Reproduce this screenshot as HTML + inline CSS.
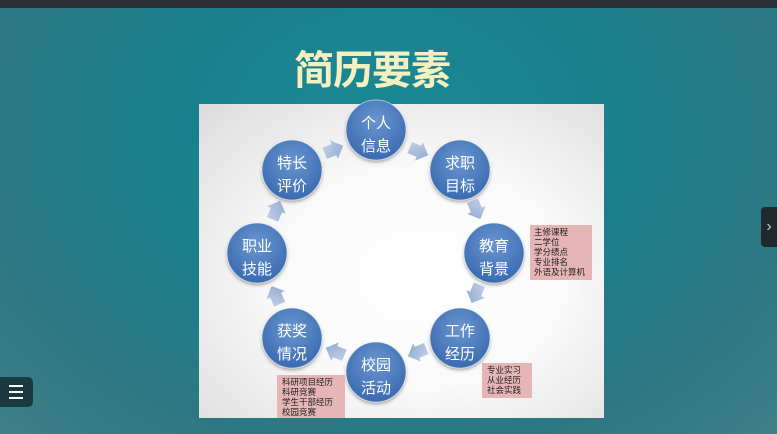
<!DOCTYPE html>
<html><head><meta charset="utf-8"><style>
html,body{margin:0;padding:0;}
body{width:777px;height:434px;overflow:hidden;position:relative;font-family:"Liberation Sans","Noto Sans CJK SC",sans-serif;
background:radial-gradient(ellipse at 50% 30%,#1a8a96 0%,#19808c 40%,#2c7882 75%,#407f88 100%);}
.top{position:absolute;left:0;top:0;width:777px;height:8px;background:#2b2e33;}
.title{position:absolute;left:0;width:744px;top:38px;text-align:center;font-size:40px;font-weight:bold;color:#f6efbf;font-family:"Noto Sans CJK SC",sans-serif;letter-spacing:-1px;}
.img{position:absolute;left:199px;top:104px;width:405px;height:314px;background:radial-gradient(ellipse at 55% 55%,#ffffff 0%,#fafafa 45%,#dcdcdc 100%);}
.nav{position:absolute;left:761px;top:207px;width:16px;height:40px;background:#1e2a2e;border-radius:4px 0 0 4px;color:#ccc;font-size:16px;line-height:40px;text-align:center;}
.menu{position:absolute;left:0;top:377px;width:33px;height:30px;background:#1b3a40;border-radius:0 5px 5px 0;z-index:5;}
.menu i{position:absolute;left:9px;width:14px;height:2px;background:#fff;}
</style></head><body>
<div class="top"></div>
<div class="title">简历要素</div>
<div class="img"></div>
<svg width="777" height="434" style="position:absolute;left:0;top:0" font-family="Noto Sans CJK SC, sans-serif">
<defs>
<radialGradient id="c" cx="50%" cy="35%" r="65%"><stop offset="0" stop-color="#6a96d0"/><stop offset="1" stop-color="#3a6ab0"/></radialGradient>
<linearGradient id="a" x1="0" y1="0" x2="1" y2="1"><stop offset="0" stop-color="#c5d3ea"/><stop offset="1" stop-color="#8ea6cf"/></linearGradient>
<filter id="s"><feDropShadow dx="0" dy="2" stdDeviation="1.5" flood-color="#555" flood-opacity="0.5"/></filter>
</defs>
<g id="arrows" fill="url(#a)">
<polygon points="-9,-6 1,-6 1,-10 11,0 1,10 1,6 -9,6" transform="translate(418,151) rotate(23)"/>
<polygon points="-9,-6 1,-6 1,-10 11,0 1,10 1,6 -9,6" transform="translate(476,209) rotate(67)"/>
<polygon points="-9,-6 1,-6 1,-10 11,0 1,10 1,6 -9,6" transform="translate(476,293) rotate(113)"/>
<polygon points="-9,-6 1,-6 1,-10 11,0 1,10 1,6 -9,6" transform="translate(418,352) rotate(157)"/>
<polygon points="-9,-6 1,-6 1,-10 11,0 1,10 1,6 -9,6" transform="translate(336,352) rotate(202)"/>
<polygon points="-9,-6 1,-6 1,-10 11,0 1,10 1,6 -9,6" transform="translate(276,296) rotate(246)"/>
<polygon points="-9,-6 1,-6 1,-10 11,0 1,10 1,6 -9,6" transform="translate(276,211) rotate(292)"/>
<polygon points="-9,-6 1,-6 1,-10 11,0 1,10 1,6 -9,6" transform="translate(333,150) rotate(337)"/>
</g>
<g fill="url(#c)" stroke="#fff" stroke-opacity="0.5" stroke-width="1" filter="url(#s)">
<circle cx="376" cy="130" r="30"/><circle cx="460" cy="170" r="30"/><circle cx="494" cy="253" r="30"/><circle cx="460" cy="338" r="30"/>
<circle cx="376" cy="372" r="30"/><circle cx="292" cy="338" r="30"/><circle cx="257" cy="253" r="30"/><circle cx="292" cy="170" r="30"/>
</g>
<g fill="#fff" font-size="15" text-anchor="middle">
<text x="376" y="128">个人</text><text x="376" y="151">信息</text>
<text x="460" y="168">求职</text><text x="460" y="191">目标</text>
<text x="494" y="251">教育</text><text x="494" y="274">背景</text>
<text x="460" y="336">工作</text><text x="460" y="359">经历</text>
<text x="376" y="370">校园</text><text x="376" y="393">活动</text>
<text x="292" y="336">获奖</text><text x="292" y="359">情况</text>
<text x="257" y="251">职业</text><text x="257" y="274">技能</text>
<text x="292" y="168">特长</text><text x="292" y="191">评价</text>
</g>
<g fill="#e6b5b5"><rect x="530" y="225" width="62" height="55"/><rect x="482" y="363" width="50" height="35"/><rect x="277" y="375" width="68" height="43"/></g>
<g fill="#222" font-size="8.5">
<text x="534" y="235">主修课程</text><text x="534" y="245">二学位</text><text x="534" y="255">学分绩点</text><text x="534" y="265">专业排名</text><text x="534" y="275">外语及计算机</text>
<text x="487" y="373">专业实习</text><text x="487" y="383">从业经历</text><text x="487" y="393">社会实践</text>
<text x="282" y="385">科研项目经历</text><text x="282" y="395">科研竞赛</text><text x="282" y="405">学生干部经历</text><text x="282" y="415">校园竞赛</text>
</g>
</svg>
<div class="menu"><i style="top:8px"></i><i style="top:14px"></i><i style="top:20px"></i></div>
<div class="nav">›</div>
</body></html>
